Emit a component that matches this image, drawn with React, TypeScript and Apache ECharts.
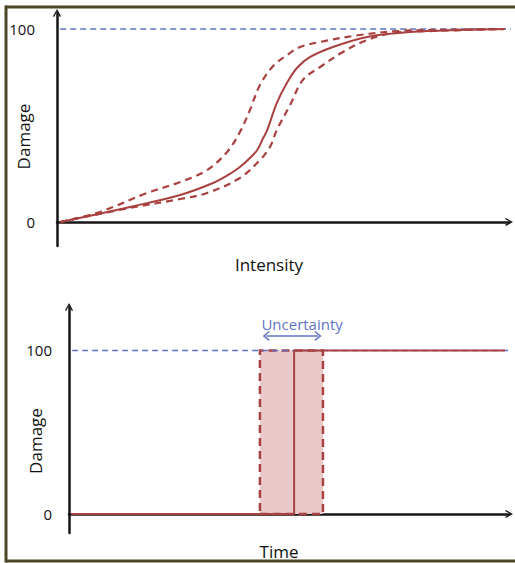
import React, { useEffect, useRef } from "react";
import * as echarts from "echarts";

// Top panel: damage vs intensity (x: intensity 0..100, y: damage 0..100)
const solidCurve: [number, number][] = [
  [0.7, 0], [16, 7.8], [27, 14], [34.2, 20.2], [37.9, 24.9], [40.1, 28.5], [42.3, 33.2],
  [43.9, 37.3], [45.2, 43.5], [46.1, 47.7], [48.2, 61.7], [50.4, 72], [52.6, 79.8],
  [55.5, 85.5], [60.5, 90.7], [68, 95.9], [77.4, 98.4], [88.4, 99.5], [98.2, 100],
];
const upperCurve: [number, number][] = [
  [0.7, 0], [9.4, 5.2], [19.7, 15], [27, 20.7], [32.9, 26.9], [37.3, 36.3], [40.1, 46.6],
  [42.3, 58], [44.5, 71], [47.4, 80.8], [51.1, 87.6], [53.3, 90.7], [57.7, 93.3],
  [66.4, 96.9], [75.2, 99], [88.4, 99.7], [98.2, 100],
];
const lowerCurve: [number, number][] = [
  [0.7, 0], [16, 7.3], [27, 11.9], [32.9, 15], [40.1, 22.8], [44.5, 32.1], [46.7, 38.9],
  [48.2, 47.7], [51.1, 60.6], [53.9, 73.6], [57.7, 80.3], [62.7, 88.1], [68, 94.3],
  [73.7, 97.9], [82.5, 99], [98.2, 100],
];
const topRefLine: [number, number][] = [[0.7, 100], [100.4, 100]];

// Bottom panel: damage vs time
const stepLine: [number, number][] = [[0.5, 0], [50.7, 0], [50.7, 100], [98.2, 100]];
const bottomRefLine: [number, number][] = [[0.7, 100], [100.5, 100]];
const uncertaintyRange: [number, number] = [43, 57.2];
const uncertaintyArrow: [number, number] = [44.4, 56.1];
const arrowLevel = 108.9;

const yTickValues = [0, 100];

const RED = "#a8413f";
const BLUE = "#5f73c6";
const AXIS = "#161616";
const FRAME = "#4d4727";
const TEXT = "#111111";
const FONT = "Open Sans";
const chevron = "path://M0,9 L5,0 L10,9 L8.6,10 L5,3.2 L1.4,10 Z";

export default function App() {
  const ref = useRef<HTMLDivElement>(null);
  useEffect(() => {
    if (!ref.current) return;
    const chart = echarts.init(ref.current, null, { renderer: "svg" });
    const axisLine = {
      show: true,
      symbol: ["none", chevron],
      symbolSize: [11, 8],
      lineStyle: { color: AXIS, width: 2.5 },
    };
    const frameStyle = { stroke: FRAME, lineWidth: 3 };
    const nameStyle = (padding: number[]) => ({ fontSize: 17, color: TEXT, fontFamily: FONT, padding });
    chart.setOption({
      animation: false,
      backgroundColor: "#ffffff",
      textStyle: { fontFamily: FONT },
      graphic: [
        { type: "line", shape: { x1: 6, y1: 5.5, x2: 6, y2: 562.5 }, style: frameStyle, z: 100 },
        { type: "line", shape: { x1: 6, y1: 7, x2: 515, y2: 7 }, style: frameStyle, z: 100 },
        { type: "line", shape: { x1: 6, y1: 561, x2: 515, y2: 561 }, style: frameStyle, z: 100 },
      ],
      grid: [
        { left: 57, top: 13, right: 6, bottom: 317, outerBoundsMode: "none", containLabel: false },
        { left: 69, top: 307, right: 6, bottom: 30, outerBoundsMode: "none", containLabel: false },
      ],
      xAxis: [
        {
          type: "value", gridIndex: 0, min: 0, max: 99.1,
          axisLine, axisTick: { show: false }, axisLabel: { show: false }, splitLine: { show: false },
          name: "Intensity", nameLocation: "middle", nameGap: 10, nameMoveOverlap: false,
          nameTextStyle: nameStyle([0, 28, 0, 0]),
        },
        {
          type: "value", gridIndex: 1, min: 0, max: 99.1,
          axisLine, axisTick: { show: false }, axisLabel: { show: false }, splitLine: { show: false },
          name: "Time", nameLocation: "middle", nameGap: 10, nameMoveOverlap: false,
          nameTextStyle: nameStyle([0, 20, 0, 0]),
        },
      ],
      yAxis: [
        {
          type: "value", gridIndex: 0, min: -12.44, max: 108.29,
          axisLine, axisTick: { show: false }, splitLine: { show: false },
          axisLabel: { customValues: yTickValues, margin: 22, fontSize: 15, color: TEXT, fontFamily: FONT },
          name: "Damage", nameLocation: "middle", nameGap: 25, nameMoveOverlap: false,
          nameTextStyle: nameStyle([0, 14, 0, 0]),
        },
        {
          type: "value", gridIndex: 1, min: -11.62, max: 126.6,
          axisLine, axisTick: { show: false }, splitLine: { show: false },
          axisLabel: { customValues: yTickValues, margin: 17, fontSize: 15, color: TEXT, fontFamily: FONT },
          name: "Damage", nameLocation: "middle", nameGap: 25, nameMoveOverlap: false,
          nameTextStyle: nameStyle([0, 42, 0, 0]),
        },
      ],
      series: [
        {
          type: "line", xAxisIndex: 0, yAxisIndex: 0, data: topRefLine, symbol: "none", clip: false,
          lineStyle: { color: BLUE, width: 1.3, type: [6, 4] }, silent: true,
        },
        {
          type: "line", xAxisIndex: 0, yAxisIndex: 0, data: upperCurve, symbol: "none",
          smooth: 0.35,
          lineStyle: { color: RED, width: 2.2, type: [7, 5] }, silent: true,
        },
        {
          type: "line", xAxisIndex: 0, yAxisIndex: 0, data: lowerCurve, symbol: "none",
          smooth: 0.35,
          lineStyle: { color: RED, width: 2.2, type: [7, 5] }, silent: true,
        },
        {
          type: "line", xAxisIndex: 0, yAxisIndex: 0, data: solidCurve, symbol: "none",
          smooth: 0.35,
          lineStyle: { color: RED, width: 2 }, silent: true,
        },
        {
          type: "line", xAxisIndex: 1, yAxisIndex: 1, data: bottomRefLine, symbol: "none", clip: false,
          lineStyle: { color: BLUE, width: 1.3, type: [6, 4] }, silent: true,
          markArea: {
            silent: true,
            itemStyle: {
              color: "#e9c9c9", borderColor: RED, borderWidth: 2.5, borderType: [8, 5],
            },
            data: [[{ xAxis: uncertaintyRange[0], yAxis: 0 }, { xAxis: uncertaintyRange[1], yAxis: 100 }]],
          },
          markLine: {
            silent: true,
            symbol: [chevron, chevron],
            symbolSize: [10, 7],
            lineStyle: { color: BLUE, width: 1.5, type: "solid" },
            label: {
              show: true, position: "middle", formatter: "Uncertainty",
              color: BLUE, fontSize: 15, fontFamily: FONT, distance: 4, padding: [0, 0, 0, 20],
            },
            data: [[
              { coord: [uncertaintyArrow[0], arrowLevel] },
              { coord: [uncertaintyArrow[1], arrowLevel] },
            ]],
          },
        },
        {
          type: "line", xAxisIndex: 1, yAxisIndex: 1, data: stepLine, symbol: "none", clip: false,
          lineStyle: { color: RED, width: 2 }, silent: true,
        },
      ],
    });
    return () => chart.dispose();
  }, []);
  return (
    <div
      ref={ref}
      style={{ position: "absolute", left: 0, top: 0, width: 515, height: 563 }}
    />
  );
}
